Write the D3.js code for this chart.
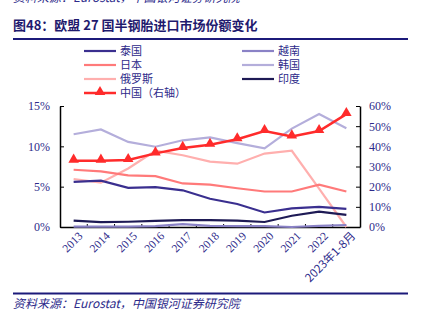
<!DOCTYPE html>
<html><head><meta charset="utf-8">
<script src="https://cdn.jsdelivr.net/npm/d3@7"></script>
<style>
body{margin:0;background:#fff;}
svg{display:block;}
</style></head>
<body>
<svg id="c" width="422" height="321"></svg>
<script>
const categories = ["2013","2014","2015","2016","2017","2018","2019","2020","2021","2022","2023年1-8月"];
const thailand = [5.6,5.75,4.85,4.95,4.55,3.5,2.85,1.8,2.3,2.5,2.25];
const vietnam  = [0.05,0.05,0.05,0.1,0.35,0.15,0.1,0.1,0.0,0.15,0.25];
const japan    = [7.1,6.9,6.4,6.3,5.4,5.25,4.8,4.4,4.4,5.25,4.4];
const korea    = [11.5,12.1,10.55,9.95,10.75,11.1,10.4,9.75,12.2,14.0,12.25];
const russia   = [5.95,5.5,7.25,9.45,8.9,8.1,7.85,9.1,9.45,4.75,0.0];
const india    = [0.8,0.6,0.65,0.75,0.85,0.85,0.78,0.62,1.4,1.9,1.5];
const china    = [32.9,32.9,33.2,36.5,39.2,40.8,43.5,47.6,44.9,47.6,56.0];
const leftTicks = [0,5,10,15];
const rightTicks = [0,10,20,30,40,50,60];

const seriesLeft = [
  {name:"韩国", values:korea, color:"#b4aedb"},
  {name:"俄罗斯", values:russia, color:"#ffafae"},
  {name:"日本", values:japan, color:"#ff7a7a"},
  {name:"泰国", values:thailand, color:"#3a2f8f"},
  {name:"印度", values:india, color:"#1e1a55"},
  {name:"越南", values:vietnam, color:"#8a82c6"}
];
const chinaSeries = {name:"中国（右轴）", values:china, color:"#ff2b2b"};

const svg = d3.select("#c");
const navy = "#1c1a7a";
const txt = "#2d2a8a";
const cjk = "'Noto Sans CJK SC','Noto Sans CJK JP',sans-serif";
const serif = "'Liberation Serif','DejaVu Serif',serif";

// previous-page cut-off source line
svg.append("text").attr("x",13).attr("y",2).attr("font-family",cjk).attr("font-style","italic")
  .attr("font-size",12).attr("fill",txt).text("资料来源：Eurostat，中国银河证券研究院");

// title
svg.append("text").attr("x",13).attr("y",30).attr("font-family",cjk).attr("font-weight","bold")
  .attr("font-size",13).attr("fill","#1f1a6e").text("图48：欧盟 27 国半钢胎进口市场份额变化");
svg.append("line").attr("x1",13).attr("x2",408).attr("y1",39).attr("y2",39).attr("stroke",navy).attr("stroke-width",2);
svg.append("line").attr("x1",13).attr("x2",408).attr("y1",293.5).attr("y2",293.5).attr("stroke",navy).attr("stroke-width",2);
svg.append("text").attr("x",13).attr("y",308).attr("font-family",cjk).attr("font-style","italic")
  .attr("font-size",12).attr("fill",txt).text("资料来源：Eurostat，中国银河证券研究院");

const L=60, R=360, T=106, B=227;
const x = d3.scaleBand().domain(categories).range([L,R]);
const yL = d3.scaleLinear().domain([0,15]).range([B,T]);
const yR = d3.scaleLinear().domain([0,60]).range([B,T]);

// axes
const gl = svg.append("g").attr("transform",`translate(${L},0)`)
  .call(d3.axisLeft(yL).tickValues(leftTicks).tickFormat(d=>d+"%").tickSizeInner(-4).tickSizeOuter(0).tickPadding(10));
const gr = svg.append("g").attr("transform",`translate(${R},0)`)
  .call(d3.axisRight(yR).tickValues(rightTicks).tickFormat(d=>d+"%").tickSizeInner(-4).tickSizeOuter(0).tickPadding(9));
const gb = svg.append("g").attr("transform",`translate(0,${B})`)
  .call(d3.axisBottom(x).tickSize(0).tickFormat(d=>d));
// bottom tick marks at band boundaries
const bounds = categories.slice(1).map(c=>x(c));
gb.selectAll(".bt").data(bounds).enter().append("line").attr("class","bt")
  .attr("x1",d=>d).attr("x2",d=>d).attr("y1",0).attr("y2",-3).attr("stroke","#000");
[gl,gr,gb].forEach(g=>{
  g.select(".domain").attr("stroke","#000").attr("stroke-width",1.5);
  g.selectAll(".tick line").attr("stroke","#000");
  g.selectAll("text").attr("font-family",serif).attr("font-size",12).attr("fill",txt);
});
gb.selectAll(".tick text")
  .attr("text-anchor","end")
  .attr("transform",function(){return "translate(4,4) rotate(-45)";})
  .attr("x",0).attr("y",0).attr("dy","0.7em")
  .attr("font-family",(d)=>d.length>4?cjk:serif).attr("font-size",11.5);

// lines
const lineL = d3.line().x((d,i)=>x(categories[i])+x.bandwidth()/2).y(d=>yL(d));
const lineR = d3.line().x((d,i)=>x(categories[i])+x.bandwidth()/2).y(d=>yR(d));
seriesLeft.forEach(s=>{
  svg.append("path").attr("d",lineL(s.values)).attr("fill","none").attr("stroke",s.color).attr("stroke-width",2.2);
});
svg.append("path").attr("d",lineR(china)).attr("fill","none").attr("stroke",chinaSeries.color).attr("stroke-width",2.5);
const tri = d3.symbol().type(d3.symbolTriangle).size(48);
svg.selectAll(".mk").data(china).enter().append("path").attr("class","mk")
  .attr("d",tri).attr("fill",chinaSeries.color)
  .attr("transform",(d,i)=>`translate(${x(categories[i])+x.bandwidth()/2},${yR(d)-1})`);

// legend
const legend = [
  {name:"泰国", color:"#3a2f8f", col:0,row:0},
  {name:"日本", color:"#ff7a7a", col:0,row:1},
  {name:"俄罗斯", color:"#ffafae", col:0,row:2},
  {name:"中国（右轴）", color:"#ff2b2b", col:0,row:3, marker:true},
  {name:"越南", color:"#8a82c6", col:1,row:0},
  {name:"韩国", color:"#b4aedb", col:1,row:1},
  {name:"印度", color:"#1e1a55", col:1,row:2}
];
const lg = svg.append("g");
legend.forEach(d=>{
  const x0 = d.col? 242:84, y0 = 51 + d.row*14;
  lg.append("line").attr("x1",x0).attr("x2",x0+32).attr("y1",y0).attr("y2",y0)
    .attr("stroke",d.color).attr("stroke-width",d.marker?2.5:2.2);
  if(d.marker) lg.append("path").attr("d",tri).attr("fill",d.color).attr("transform",`translate(${x0+16},${y0-1})`);
  lg.append("text").attr("x",x0+36).attr("y",y0+4).attr("font-family",cjk).attr("font-size",11)
    .attr("fill",txt).text(d.name);
});
</script>
</body></html>
